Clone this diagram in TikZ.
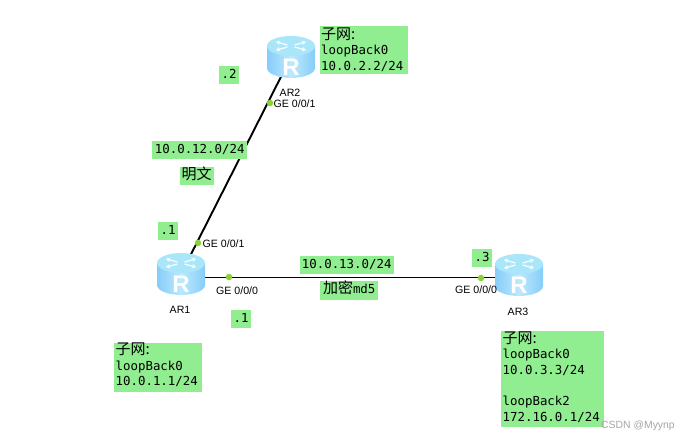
\documentclass[tikz,border=0pt]{standalone}
\usepackage{fontspec}
\setmainfont{Liberation Sans}
\setmonofont{DejaVu Sans Mono}
\newfontfamily\cjk{Noto Sans CJK SC}
\usetikzlibrary{arrows.meta}
\definecolor{lab}{HTML}{90EE90}
\definecolor{dotg}{HTML}{8CD136}
\definecolor{rside}{HTML}{86CDF8}
\definecolor{rmid}{HTML}{BDE9FD}
\definecolor{rtop}{HTML}{A9E6FA}
\newcommand{\mono}{\fontsize{12.4}{15.6}\selectfont\ttfamily}
\newcommand{\zh}[1]{{\cjk\fontsize{15}{15.6}\selectfont #1}}
\newcommand{\lift}{\rule[-6pt]{0pt}{1pt}}
\tikzset{
  x=1pt,y=-1pt,
  lbl/.style={fill=lab,inner sep=0pt,anchor=north west,font=\mono,align=left},
  tag/.style={lbl,minimum height=18pt,align=center,text height=9pt,text depth=3pt},
  port/.style={font=\fontsize{10.6}{12}\selectfont,inner sep=0pt},
  dotn/.style={circle,fill=dotg,inner sep=0pt,minimum size=6.5pt},
  routerbox/.style={inner sep=0pt,minimum width=48pt,minimum height=42pt},
  link/.style={line width=1.9pt,black},
  router/.pic={
    \shade[left color=rside,right color=rside,middle color=rmid]
      (-24,-11) -- (-24,11) arc[start angle=180,end angle=360,x radius=24pt,y radius=10pt] -- (24,-11) -- cycle;
    \fill[rtop] (0,-11) ellipse[x radius=24pt,y radius=10pt];
    \foreach \a in {28,152,208,332}{
      \draw[white,opacity=.9,line width=1.3pt,-{Stealth[length=4pt,width=4.5pt]}]
        ({4*cos(\a)},{-11+2*sin(\a)}) -- ({17*cos(\a)},{-11+9*sin(\a)});
    }
    \node[white,font=\fontsize{24}{24}\selectfont\bfseries,inner sep=0pt] at (0,10.5) {R};
  }
}
\begin{document}
\begin{tikzpicture}
\useasboundingbox (0,0) rectangle (687,441);
\fill[white] (0,0) rectangle (687,441);
\node[routerbox] (ar1) at (181,274) {};
\node[routerbox] (ar2) at (291,57) {};
\node[routerbox] (ar3) at (519,275) {};
\draw[link] (ar1.center) -- (ar2.center);
\draw[link] ([yshift=-3.5pt]ar1.center) -- ([yshift=-2.5pt]ar3.center);
\pic at (ar1.center) {router};
\pic at (ar2.center) {router};
\pic at (ar3.center) {router};
\node[dotn] (d1) at (198,243) {};
\node[dotn] (d2) at (270,103) {};
\node[dotn] (d3) at (229,277) {};
\node[dotn] (d4) at (481,278) {};
\node[port,anchor=west] (p1) at (202.5,243.5) {GE 0/0/1};
\node[port,anchor=west] (p2) at (273.5,104) {GE 0/0/1};
\node[port,anchor=west] (p3) at (216,291) {GE 0/0/0};
\node[port,anchor=west] (p4) at (455,289.5) {GE 0/0/0};
\node[port] (n1) at (180,310) {AR1};
\node[port] (n2) at (290,93) {AR2};
\node[port] (n3) at (518,311.5) {AR3};
\node[lbl,minimum width=88pt,minimum height=48pt,text width=85pt,inner xsep=1.5pt] (s2) at (319.5,25.5) {\zh{子网:}\\loopBack0\\10.0.2.2/24};
\node[tag,minimum width=20pt] (t2) at (219,66) {.2};
\node[tag,minimum width=95pt] (t3) at (152,141) {10.0.12.0/24};
\node[tag,minimum width=34pt] (t4) at (179.5,167) {\zh{明文}};
\node[tag,minimum width=20pt] (t5) at (158,222) {.1};
\node[tag,minimum width=94pt] (t6) at (299.5,256) {10.0.13.0/24};
\node[tag,minimum width=58pt,minimum height=19pt] (t7) at (320,281) {\zh{加密}md5};
\node[tag,minimum width=20pt] (t8) at (231,310) {.1};
\node[lbl,minimum width=88pt,minimum height=49pt,text width=85pt,inner xsep=1.5pt] (s1) at (114,342.5) {\zh{子网:}\\loopBack0\\10.0.1.1/24\lift};
\node[tag,minimum width=20pt] (t9) at (472,249) {.3};
\node[lbl,minimum width=103pt,minimum height=96pt,text width=100pt,inner xsep=1.5pt] (s3) at (501,331) {\zh{子网:}\\loopBack0\\10.0.3.3/24\\[15.6pt]loopBack2\\172.16.0.1/24\lift};
\node[port,gray!70,anchor=west,font=\fontsize{10.4}{12}\selectfont] (wm) at (601,425.5) {CSDN @Myynp};
\end{tikzpicture}
\end{document}
